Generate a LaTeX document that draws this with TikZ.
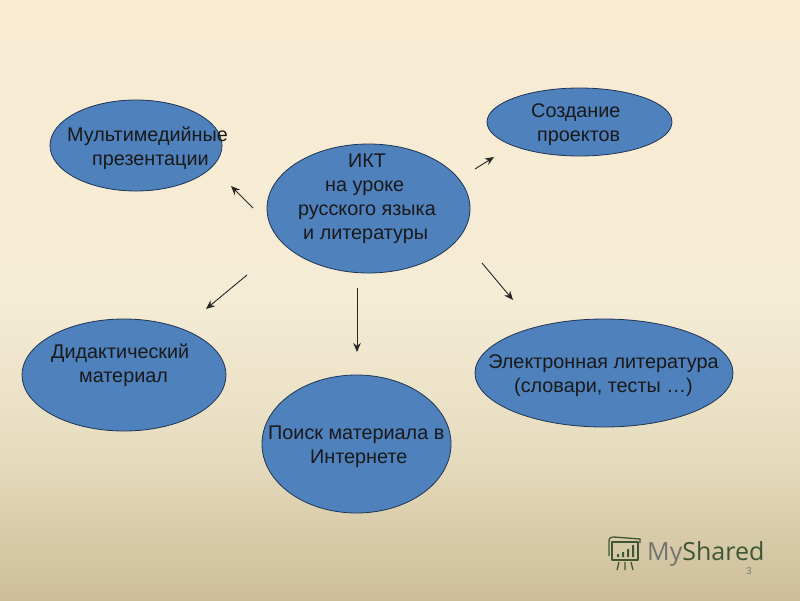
\documentclass[tikz,border=0pt]{standalone}
\usepackage{fontspec}
\setmainfont{Liberation Sans}
\newfontfamily\logofont{Open Sans}
\usetikzlibrary{arrows.meta,shapes.geometric}
\definecolor{bgtop}{HTML}{F9EBD2}
\definecolor{bglight}{HTML}{F5ECD6}
\definecolor{bgmid}{HTML}{E6DCBF}
\definecolor{bgbottom}{HTML}{CDBE98}
\definecolor{blobblue}{HTML}{4F81BD}
\definecolor{blobline}{HTML}{1F3553}
\definecolor{logogreen}{HTML}{3E5636}
\pgfdeclareverticalshading{slidebg}{100bp}{
    color(0bp)=(bgbottom); color(25bp)=(bgbottom); color(37.5bp)=(bgmid); color(50bp)=(bglight); color(75bp)=(bgtop); color(100bp)=(bgtop)}
\tikzset{
    blob/.style={ellipse, draw=blobline, line width=0.8pt, fill=blobblue, inner sep=0pt}, % овалы
    lbl/.style={font=\fontsize{19.8}{24}\selectfont, text=black!90, inner sep=0pt, align=left}, % подписи
    link/.style={-{Stealth[length=9pt,width=7.5pt]}, line width=0.9pt, black!85} % стрелки
}

\begin{document}
\begin{tikzpicture}[x=1pt, y=-1pt]
    \useasboundingbox (0,0) rectangle (800,600);
    \shade[shading=slidebg] (0,0) rectangle (800,600);

    \node[blob, minimum width=203pt, minimum height=129pt] (ikt) at (368.5,208.5) {};
    \node[blob, minimum width=172pt, minimum height=91pt] (media) at (136,145.5) {};
    \node[blob, minimum width=185pt, minimum height=68pt] (project) at (579.5,122) {};
    \node[blob, minimum width=204pt, minimum height=112pt] (didact) at (124,375) {};
    \node[blob, minimum width=189pt, minimum height=138pt] (search) at (356.5,444) {};
    \node[blob, minimum width=258pt, minimum height=108pt] (books) at (604,373) {};

    \node[lbl, anchor=north west] (iktText) at (298,154) {\hspace*{50pt}ИКТ\\\hspace*{27pt}на уроке\\русского языка\\\hspace*{5pt}и литературы};
    \node[lbl, anchor=north west] (mediaText) at (67,127) {Мультимедийные\\\hspace*{25pt}презентации};
    \node[lbl, anchor=north west] (projectText) at (531,103) {Создание\\\hspace*{6pt}проектов};
    \node[lbl, anchor=north west] (didactText) at (51,344) {Дидактический\\\hspace*{28pt}материал};
    \node[lbl, anchor=north west] (searchText) at (268,426) {Поиск материала в\\\hspace*{42pt}Интернете};
    \node[lbl, align=center, anchor=north] (booksText) at (603.5,354) {Электронная литература\\(словари, тесты …)};

    \coordinate (a1) at (253,208); \coordinate (b1) at (231,186);
    \coordinate (a2) at (475,169); \coordinate (b2) at (494,157);
    \coordinate (a3) at (247,275); \coordinate (b3) at (206,309);
    \coordinate (a4) at (357,288); \coordinate (b4) at (357,352);
    \coordinate (a5) at (482,263); \coordinate (b5) at (513,300);
    \foreach \i in {1,...,5} {\draw[link] (a\i) -- (b\i);}

    % логотип
    \draw[logogreen, line width=1.3pt, line join=round] (612,542) rectangle (638,560);
    \draw[logogreen, line width=1.3pt] (609,556) -- (609,541) .. controls (609,537) and (612,537) .. (614,537) -- (640,539) -- (640,543);
    \fill[logogreen] (617,554) rectangle (619,557) (622,552) rectangle (624,557) (627,549) rectangle (629,557) (632,545) rectangle (634,557);
    \draw[logogreen, line width=1.3pt] (619,562) -- (617,570) (625,562) -- (625,570) (631,562) -- (633,570);
    \node[inner sep=0pt, anchor=west, font=\logofont\fontsize{25}{25}\selectfont] (logo) at (647,554)
        {\textcolor{black!55}{My}\textcolor{logogreen}{Shared}};
    \node[inner sep=0pt, text=black!50, font=\fontsize{10}{12}\selectfont] (pagenum) at (749,571) {3};
\end{tikzpicture}
\end{document}
